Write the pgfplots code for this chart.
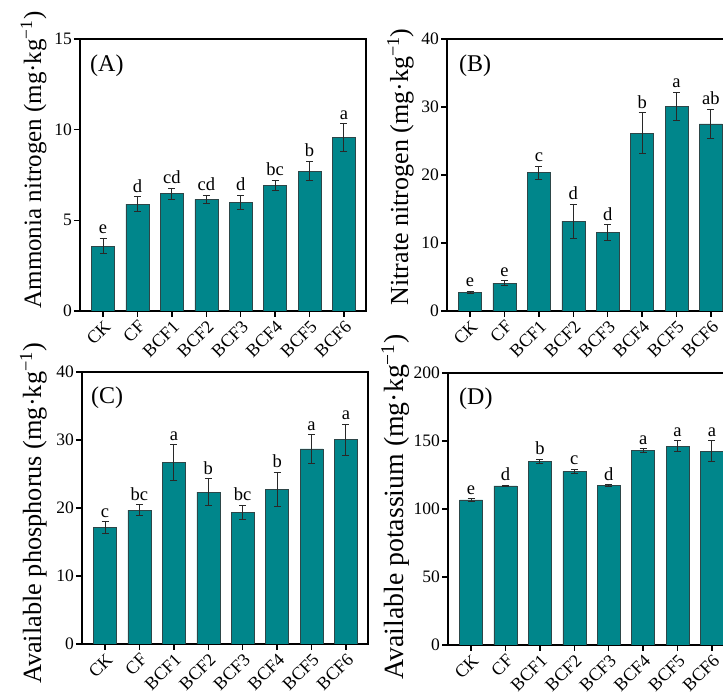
\documentclass[border=0pt]{standalone}
\usepackage{pgfplots}
\usepackage{pgfplotstable}
\pgfplotsset{compat=1.18}
\usepackage{fontspec}
\setmainfont{Liberation Serif}
\definecolor{barc}{RGB}{0,134,139}
\definecolor{edgec}{RGB}{45,70,72}
\definecolor{errc}{RGB}{40,40,40}

\pgfplotstableread{
x y e lab
0 3.58 0.42 e
1 5.90 0.40 d
2 6.47 0.30 cd
3 6.15 0.23 cd
4 5.97 0.40 d
5 6.93 0.28 bc
6 7.72 0.55 b
7 9.56 0.77 a
}\tabA
\pgfplotstableread{
x y e lab
0 2.75 0.12 e
1 4.08 0.40 e
2 20.34 0.95 c
3 13.2 2.5 d
4 11.5 1.2 d
5 26.14 3.0 b
6 30.1 2.1 a
7 27.5 2.2 ab
}\tabB
\pgfplotstableread{
x y e lab
0 17.13 0.83 c
1 19.68 0.78 bc
2 26.7 2.6 a
3 22.33 2.0 b
4 19.34 1.05 bc
5 22.77 2.5 b
6 28.7 2.1 a
7 30.04 2.25 a
}\tabC
\pgfplotstableread{
x y e lab
0 106.7 1.0 e
1 117.0 0.5 d
2 135.0 1.5 b
3 127.6 1.5 c
4 117.3 0.5 d
5 143.1 1.2 a
6 146.3 3.9 a
7 142.6 7.4 a
}\tabD

\pgfplotsset{
  panel/.style={
    scale only axis, width=286pt, height=272pt,
    xmin=-0.67, xmax=7.64, ymin=0,
    xtick={0,...,7},
    xticklabels={CK,CF,BCF1,BCF2,BCF3,BCF4,BCF5,BCF6},
    xticklabel style={rotate=45, anchor=north east, font=\fontsize{18}{18}\selectfont, inner sep=1.5pt},
    yticklabel style={font=\fontsize{17.5}{17.5}\selectfont, inner sep=2pt},
    /pgf/number format/assume math mode=true,
    tick align=outside, xtick pos=left, ytick pos=left,
    major tick length=6pt,
    tick style={line width=1.3pt, black},
    axis line style={line width=1.8pt, black},
    minor tick num=0,
  },
  bars/.style={ybar, bar width=23pt, fill=barc, draw=edgec, line width=0.6pt,
    error bars/.cd, y dir=both, y explicit,
    error bar style={line width=1pt, color=errc},
    error mark options={rotate=90, mark size=3.5pt, line width=1pt, color=errc}},
  lets/.style={draw=none, nodes near coords, point meta=explicit symbolic,
    nodes near coords style={anchor=base, yshift=4.5pt, inner sep=0pt, font=\fontsize{18.5}{18.5}\selectfont, text=black}},
}

\begin{document}
\begin{tikzpicture}
\path[use as bounding box] (0pt,0pt) rectangle (723pt,700pt);
% (A)
\begin{axis}[panel, at={(80pt,389pt)}, anchor=south west, ymax=15, ytick={0,5,10,15},
  ylabel={Ammonia nitrogen (mg·kg\textsuperscript{−1})},
  ylabel style={at={(axis description cs:-0.136,0.555)}, anchor=base, font=\fontsize{25}{25}\selectfont}]
\addplot[bars] table[x=x, y=y, y error=e] {\tabA};
\addplot[lets] table[x=x, y expr=\thisrow{y}+\thisrow{e}, meta=lab] {\tabA};
\node[anchor=north west, inner sep=0pt, font=\fontsize{24}{24}\selectfont, xshift=10pt, yshift=-16pt] at (rel axis cs:0,1) {(A)};
\end{axis}
% (B)
\begin{axis}[panel, at={(447pt,389pt)}, anchor=south west, ymax=40, ytick={0,10,20,30,40},
  ylabel={Nitrate nitrogen (mg·kg\textsuperscript{−1})},
  ylabel style={at={(axis description cs:-0.136,0.53)}, anchor=base, font=\fontsize{26}{26}\selectfont}]
\addplot[bars] table[x=x, y=y, y error=e] {\tabB};
\addplot[lets] table[x=x, y expr=\thisrow{y}+\thisrow{e}, meta=lab] {\tabB};
\node[anchor=north west, inner sep=0pt, font=\fontsize{24}{24}\selectfont, xshift=12pt, yshift=-16pt] at (rel axis cs:0,1) {(B)};
\end{axis}
% (C)
\begin{axis}[panel, at={(82pt,56pt)}, anchor=south west, ymax=40, ytick={0,10,20,30,40},
  ylabel={Available phosphorus (mg·kg\textsuperscript{−1})},
  ylabel style={at={(axis description cs:-0.143,0.48)}, anchor=base, font=\fontsize{26.3}{26.3}\selectfont}]
\addplot[bars] table[x=x, y=y, y error=e] {\tabC};
\addplot[lets] table[x=x, y expr=\thisrow{y}+\thisrow{e}, meta=lab] {\tabC};
\node[anchor=north west, inner sep=0pt, font=\fontsize{24}{24}\selectfont, xshift=9pt, yshift=-15pt] at (rel axis cs:0,1) {(C)};
\end{axis}
% (D)
\begin{axis}[panel, at={(448pt,55pt)}, anchor=south west, ymax=200, ytick={0,50,100,150,200},
  ylabel={Available potassium (mg·kg\textsuperscript{−1})},
  ylabel style={at={(axis description cs:-0.157,0.507)}, anchor=base, font=\fontsize{27.8}{27.8}\selectfont}]
\addplot[bars] table[x=x, y=y, y error=e] {\tabD};
\addplot[lets] table[x=x, y expr=\thisrow{y}+\thisrow{e}, meta=lab] {\tabD};
\node[anchor=north west, inner sep=0pt, font=\fontsize{24}{24}\selectfont, xshift=11pt, yshift=-15pt] at (rel axis cs:0,1) {(D)};
\end{axis}
\end{tikzpicture}
\end{document}
